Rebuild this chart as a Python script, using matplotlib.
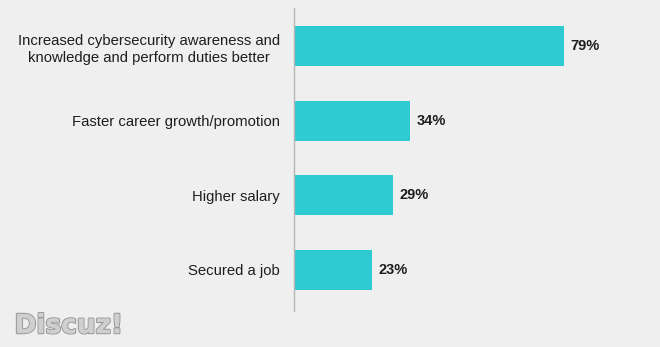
import matplotlib.pyplot as plt
import matplotlib.patheffects as pe

categories = [
    "Increased cybersecurity awareness and\nknowledge and perform duties better",
    "Faster career growth/promotion",
    "Higher salary",
    "Secured a job",
]
values = [79, 34, 29, 23]
value_labels = ["79%", "34%", "29%", "23%"]

bg = "#efefef"
bar_color = "#2ecbd3"
text_color = "#1e1e1e"

plt.rcParams["font.family"] = ["Liberation Sans", "DejaVu Sans"]

fig = plt.figure(figsize=(6.6, 3.47), dpi=100, facecolor=bg)
ax = fig.add_axes([0.445, 0.104, 0.555, 0.873])
ax.set_facecolor(bg)

pos = list(range(len(categories)))
ax.barh(pos, values, height=0.54, color=bar_color)

for p, v, lab in zip(pos, values, value_labels):
    ax.text(v + 1.9, p, lab, va="center", ha="left", fontsize=10.5,
            fontweight="bold", color=text_color)

ax.set_yticks(pos)
ax.set_yticklabels(categories, fontsize=10.7, color=text_color, ha="right",
                   multialignment="center", linespacing=1.3)
ax.tick_params(axis="y", length=0, pad=10)
ax.set_xticks([])
ax.set_xlim(0, 107)
ax.set_ylim(3.55, -0.51)

for side in ["top", "right", "bottom"]:
    ax.spines[side].set_visible(False)
ax.spines["left"].set_color("#b5b5b5")
ax.spines["left"].set_linewidth(1.0)

# forum watermark, bottom left
fig.text(0.022, 0.04, "Discuz!", fontsize=19, fontweight="bold",
         family="DejaVu Sans", color="#cfcfcf",
         path_effects=[pe.withStroke(linewidth=1.6, foreground="#9a9a9a"),
                       pe.Normal()])

fig.savefig("out.png", dpi=100, facecolor=bg)
